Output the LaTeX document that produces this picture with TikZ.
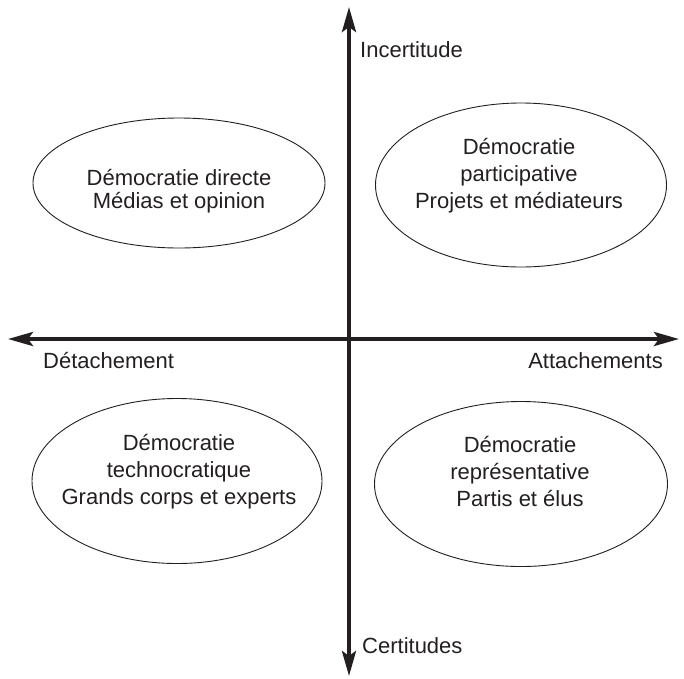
\documentclass[tikz,border=0pt]{standalone}
\usepackage{fontspec}
\setmainfont{Liberation Sans}
\usetikzlibrary{shapes.geometric,arrows.meta}
\definecolor{ink}{HTML}{231F20}
\begin{document}
\begin{tikzpicture}[x=1pt,y=-1pt,
  axisline/.style={line width=4pt,draw=ink,{Stealth[length=25pt,width=14pt,inset=5pt]}-{Stealth[length=25pt,width=14pt,inset=5pt]}},
  oval/.style={ellipse,draw=ink,line width=0.9pt,inner sep=0pt},
  axislabel/.style={inner sep=0pt,text=ink,font=\fontsize{22}{27}\selectfont},
  ovaltext/.style={inner sep=0pt,text=ink,align=center,font=\fontsize{22}{27}\selectfont,
    execute at begin node=\strut, execute at end node=\strut},
]
\useasboundingbox (0,0) rectangle (684,678);
% axes
\coordinate (top) at (349,7);
\coordinate (bottom) at (349,676);
\coordinate (left) at (8,339);
\coordinate (right) at (679,339);
\draw[axisline] (bottom) -- (top);
\draw[axisline] (left) -- (right);
% axis labels
\node[axislabel,anchor=base west] (incert) at (360,57) {Incertitude};
\node[axislabel,anchor=base west] (detach) at (43,368) {Détachement};
\node[axislabel,anchor=base east] (attach) at (663,368) {Attachements};
\node[axislabel,anchor=base west] (certit) at (362,653) {Certitudes};
% ellipses
\node[oval,minimum width=292,minimum height=130] (e1) at (179,183) {};
\node[oval,minimum width=291,minimum height=164] (e2) at (521,185) {};
\node[oval,minimum width=290,minimum height=165] (e3) at (177,481) {};
\node[oval,minimum width=293,minimum height=165] (e4) at (521,484) {};
% texts
\node[ovaltext,font=\fontsize{22}{22.5}\selectfont] (t1) at (179,192.3) {Démocratie directe\\Médias et opinion};
\node[ovaltext] (t2) at (519,177.9) {Démocratie\\participative\\Projets et médiateurs};
\node[ovaltext] (t3) at (179,473.6) {Démocratie\\technocratique\\Grands corps et experts};
\node[ovaltext] (t4) at (520,475.1) {Démocratie\\représentative\\Partis et élus};
\end{tikzpicture}
\end{document}
